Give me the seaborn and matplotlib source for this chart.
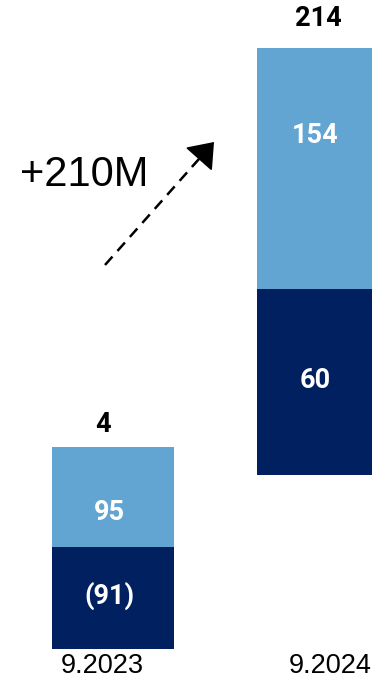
import matplotlib
matplotlib.use("Agg")
import matplotlib.pyplot as plt
import seaborn as sns
import pandas as pd

# ---- data ----
periods = ["9.2023", "9.2024"]
dark_values = [-91, 60]        # lower (navy) segment labels
light_values = [95, 154]       # upper (light blue) segment labels
totals = [4, 214]
change_label = "+210M"

# drawn (not-to-scale) segment heights as in the source graphic
drawn_base = [32, 206]
drawn_dark = [102, 186]
drawn_light = [100, 241]

DARK = "#002060"
LIGHT = "#62A5D3"

sns.set_theme(style="white")
plt.rcParams["font.family"] = ["Liberation Sans", "DejaVu Sans"]

fig = plt.figure(figsize=(3.72, 6.81), dpi=100)
ax = fig.add_axes([0, 0, 1, 1])

df = pd.DataFrame({
    "period": periods,
    "dark": drawn_dark,
    "light": drawn_light,
    "base": drawn_base,
})
df["light_bottom"] = df["base"] + df["dark"]

sns.barplot(data=df, x="period", y="dark", bottom=df["base"], color=DARK,
            width=0.595, saturation=1, ax=ax, linewidth=0)
sns.barplot(data=df, x="period", y="light", bottom=df["light_bottom"], color=LIGHT,
            width=0.595, saturation=1, ax=ax, linewidth=0)

ax.set_xlim(-0.551, 1.263)
ax.set_ylim(0, 681)
ax.set_axis_off()

def fmt(v):
    return f"({abs(v)})" if v < 0 else f"{v}"

# label offsets (px) relative to segment centre / top, as placed in the source
dark_off = [2, 2]
light_off = [-16, 33]
total_off = [22, 29]

lab_font = dict(family=["Roboto", "DejaVu Sans"], fontweight="bold", fontsize=19.5)
for i in range(len(periods)):
    b = drawn_base[i]
    d = drawn_dark[i]
    l = drawn_light[i]
    ax.text(i - 0.015, b + d / 2 + dark_off[i], fmt(dark_values[i]), color="white",
            ha="center", va="center", **lab_font)
    ax.text(i - 0.015, b + d + l / 2 + light_off[i], fmt(light_values[i]), color="white",
            ha="center", va="center", **lab_font)
    ax.text(i - 0.05 + i * 0.05, b + d + l + total_off[i], fmt(totals[i]), color="black",
            ha="center", va="center", **lab_font)
    ax.text(i - 0.05 + i * 0.11, 15, periods[i], color="black",
            ha="center", va="center", fontsize=19.5)

# change annotation
ax.text(-0.453, 506, change_label, fontsize=30, ha="left", va="center", color="black")
x0, y0 = (105 - 113) / 205, 681 - 265
x1, y1 = (214 - 113) / 205, 681 - 142
ax.plot([x0, x0 + (x1 - x0) * 0.87], [y0, y0 + (y1 - y0) * 0.87],
        color="black", lw=1.8, linestyle=(0, (4.5, 3)))
ax.annotate("", xy=(x1, y1), xytext=(x0 + (x1 - x0) * 0.8, y0 + (y1 - y0) * 0.8),
            arrowprops=dict(arrowstyle="-|>,head_length=0.5,head_width=0.38",
                            color="black", lw=1.2,
                            mutation_scale=30, shrinkA=0, shrinkB=0))

fig.savefig("out.png", dpi=100)
